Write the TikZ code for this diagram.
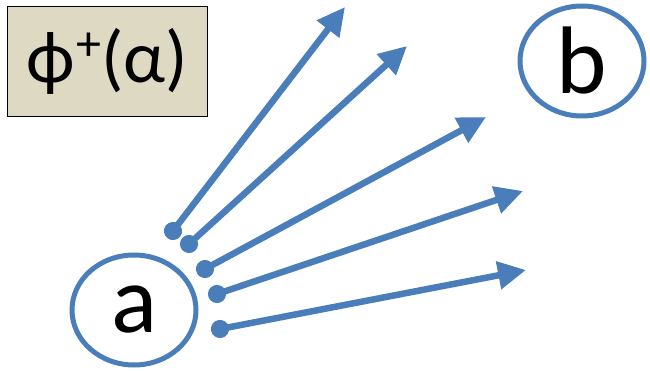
\documentclass[tikz,border=0pt]{standalone}
\usepackage{fontspec}
\setmainfont{Carlito}
\usetikzlibrary{arrows.meta,shapes.geometric}
\definecolor{ablue}{HTML}{4A7EBB}
\definecolor{boxtan}{HTML}{DDD9C3}
\begin{document}
\begin{tikzpicture}[x=1pt,y=-1pt,
  circnode/.style={draw=ablue,line width=5pt,ellipse,minimum width=124pt,minimum height=110pt,inner sep=0pt,font=\fontsize{96}{96}\selectfont},
  labelbox/.style={draw=black,line width=1.5pt,fill=boxtan,minimum width=200pt,minimum height=110pt,inner sep=0pt,font=\fontsize{74}{74}\selectfont},
  arr/.style={draw=ablue,line width=6.5pt,shorten <=-9pt,{Circle[length=18pt,width=18pt]}-{Triangle[length=28pt,width=27pt]}}]
\useasboundingbox (0,0) rectangle (650,371);
\node[labelbox] (box) at (107.5,61.5) {ϕ\hspace{1pt}\raisebox{0.62ex}{\fontsize{50}{50}\selectfont +}(α)};
\node[circnode] (a) at (134,310) {a};
\node[circnode] (b) at (582,61) {b};
\coordinate (s1) at (173,231);
\coordinate (s2) at (189,244);
\coordinate (s3) at (205,269);
\coordinate (s4) at (217,294);
\coordinate (s5) at (220,329);
\coordinate (e1) at (345,7);
\coordinate (e2) at (407,46);
\coordinate (e3) at (486,117);
\coordinate (e4) at (523,191);
\coordinate (e5) at (526,270);
\foreach \i in {1,...,5} \draw[arr] (s\i) -- (e\i);
\end{tikzpicture}
\end{document}
